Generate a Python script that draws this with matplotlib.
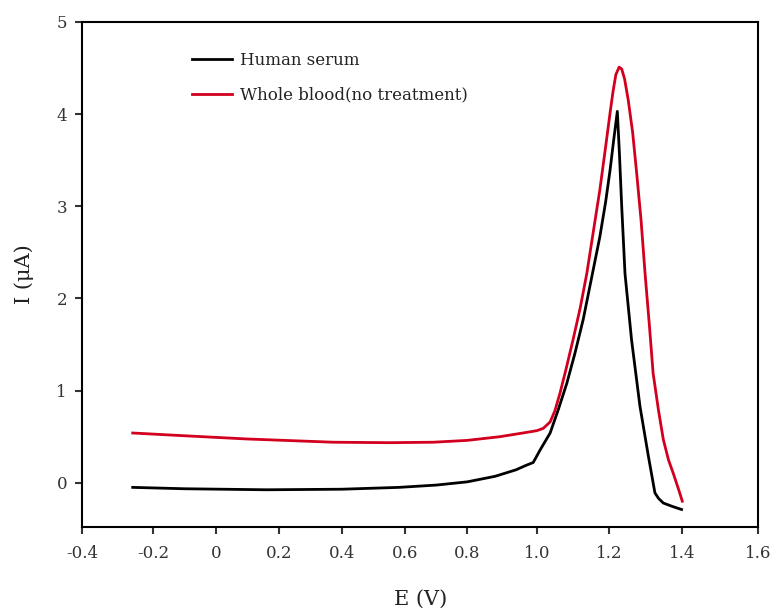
import numpy as np
import matplotlib.pyplot as plt

plt.rcParams['font.family'] = ['DejaVu Serif']

# tick values and where they sit along the (uneven) x axis, in pixels
xticks = [-0.4, -0.2, 0, 0.2, 0.4, 0.6, 0.8, 1.0, 1.2, 1.4, 1.6]
xtick_labels = ['-0.4', '-0.2', '0', '0.2', '0.4', '0.6', '0.8', '1.0', '1.2', '1.4', '1.6']
xtick_pos = [82.3, 153.3, 215.7, 279.0, 341.7, 405.3, 467.3, 536.7, 609.3, 682.3, 758.3]

# Human serum
E_serum = [-0.258, -0.1, 0.16, 0.4, 0.58, 0.7, 0.8, 0.88, 0.94, 0.97, 0.99,
           1.01, 1.037, 1.06, 1.083, 1.105, 1.128, 1.15, 1.174, 1.19, 1.202,
           1.213, 1.222, 1.228, 1.234, 1.243, 1.261, 1.284, 1.307, 1.325,
           1.335, 1.348, 1.375, 1.398]
I_serum = [-0.05, -0.065, -0.076, -0.07, -0.05, -0.025, 0.01, 0.07, 0.14, 0.19, 0.22,
           0.36, 0.54, 0.80, 1.08, 1.40, 1.77, 2.20, 2.67, 3.05, 3.39,
           3.75, 4.03, 3.55, 3.00, 2.27, 1.55, 0.83, 0.29, -0.11,
           -0.17, -0.22, -0.26, -0.29]

# Whole blood (no treatment)
E_blood = [-0.258, -0.1, 0.1, 0.373, 0.55, 0.69, 0.8, 0.894, 0.96, 1.0, 1.018,
           1.037, 1.05, 1.064, 1.08, 1.1, 1.12, 1.138, 1.155, 1.174, 1.19,
           1.202, 1.21, 1.218, 1.227, 1.234, 1.242, 1.252, 1.264, 1.275, 1.287, 1.298,
           1.31, 1.32, 1.335, 1.348, 1.362, 1.375, 1.388, 1.4]
I_blood = [0.54, 0.51, 0.475, 0.44, 0.435, 0.44, 0.46, 0.50, 0.54, 0.565, 0.59,
           0.66, 0.78, 0.97, 1.22, 1.55, 1.90, 2.27, 2.70, 3.18, 3.65,
           4.01, 4.24, 4.43, 4.51, 4.49, 4.38, 4.15, 3.80, 3.36, 2.85, 2.27,
           1.70, 1.19, 0.78, 0.47, 0.25, 0.105, -0.05, -0.2]


def fwd(x):
    return np.interp(x, xticks, xtick_pos)

def inv(p):
    return np.interp(p, xtick_pos, xticks)


fig = plt.figure(figsize=(7.76, 6.08), dpi=100)
ax = fig.add_axes([82.3/776, 1-527/608, (758.3-82.3)/776, (527-22)/608])
ax.set_xscale('function', functions=(fwd, inv))

ax.plot(E_serum, I_serum, color='black', lw=2.0, label='Human serum')
ax.plot(E_blood, I_blood, color='#d2001e', lw=2.0, label='Whole blood(no treatment)')

ax.set_xlim(-0.4, 1.6)
ax.set_ylim(-0.48, 5)
ax.set_xticks(xticks)
ax.set_xticklabels(xtick_labels)
ax.set_yticks([0, 1, 2, 3, 4, 5])
ax.minorticks_off()

for s in ax.spines.values():
    s.set_linewidth(1.5)
ax.tick_params(direction='out', length=5, width=1.5, labelsize=12, colors='#333333')
ax.tick_params(axis='x', pad=8)
ax.tick_params(axis='y', pad=6)

ax.set_xlabel('E (V)', fontsize=15, labelpad=20, color='#222222')
ax.set_ylabel('I (μA)', fontsize=15, labelpad=16, color='#222222')

leg = ax.legend(loc='upper left', bbox_to_anchor=(0.14, 0.97), frameon=False,
                fontsize=12, handlelength=2.4, handletextpad=0.5, labelspacing=1.05)
for t in leg.get_texts():
    t.set_color('#222222')

fig.savefig('out.png', dpi=100)
